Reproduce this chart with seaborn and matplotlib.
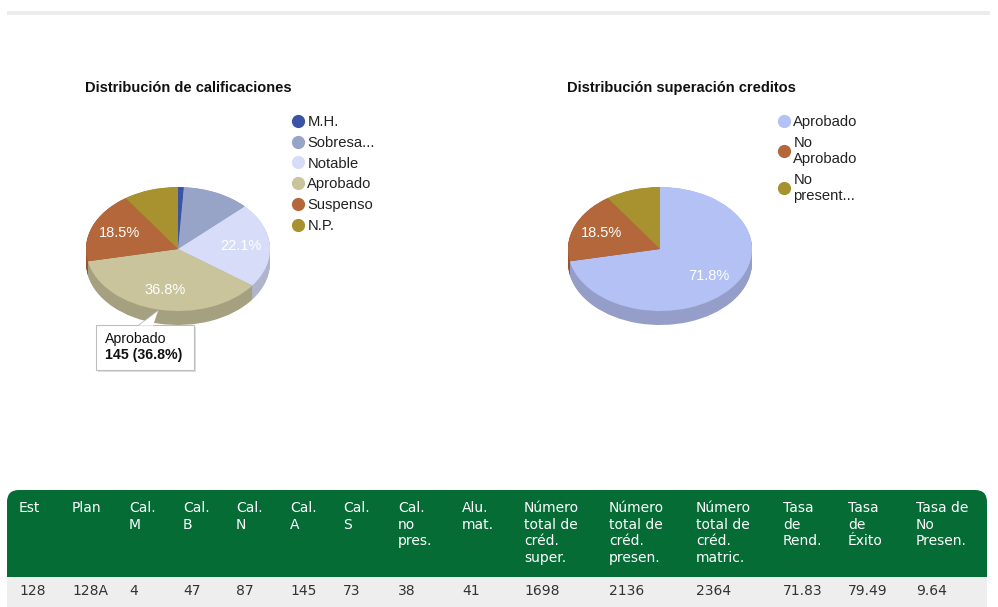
import numpy as np
import matplotlib
matplotlib.use("Agg")
import matplotlib.pyplot as plt
from matplotlib.patches import Rectangle, FancyBboxPatch, Polygon
from matplotlib.lines import Line2D
import matplotlib.colors as mcolors
import seaborn as sns

# ---------------- data ----------------
grade_labels = ["M.H.", "Sobresa...", "Notable", "Aprobado", "Suspenso", "N.P."]
grade_values = [4, 47, 87, 145, 73, 38]
grade_colors = ["#3b53a4", "#98a3c8", "#d7ddf8", "#c9c49c", "#b4673a", "#a8922f"]

credit_labels = ["Aprobado", "No\nAprobado", "No\npresent..."]
credit_values = [1698, 438, 228]
credit_colors = ["#b4c1f5", "#b4673a", "#a8922f"]

table_headers = ["Est", "Plan", "Cal.\nM", "Cal.\nB", "Cal.\nN", "Cal.\nA", "Cal.\nS",
                 "Cal.\nno\npres.", "Alu.\nmat.", "Número\ntotal de\ncréd.\nsuper.",
                 "Número\ntotal de\ncréd.\npresen.", "Número\ntotal de\ncréd.\nmatric.",
                 "Tasa\nde\nRend.", "Tasa\nde\nÉxito", "Tasa de\nNo\nPresen."]
table_row = ["128", "128A", "4", "47", "87", "145", "73", "38", "41",
             "1698", "2136", "2364", "71.83", "79.49", "9.64"]

tooltip_title = "Aprobado"
tooltip_value = "145 (36.8%)"

# ---------------- style ----------------
sns.set_theme(style="white")
plt.rcParams["font.family"] = ["Liberation Sans", "DejaVu Sans"]

W, H = 998, 607
fig = plt.figure(figsize=(W / 100, H / 100), dpi=100)
fig.patch.set_facecolor("white")


def fx(px):
    return px / W


def fy(py):
    return 1 - py / H


def darker(c, f=0.8):
    r, g, b = mcolors.to_rgb(c)
    return (r * f, g * f, b * f)


# top separator bar
fig.patches.append(Rectangle((fx(7), fy(15)), fx(990) - fx(7), 4 / H,
                             transform=fig.transFigure, facecolor="#ececec",
                             edgecolor="none", zorder=0))

RX, RY = 92, 62
THICK = 14 / 62


def pie3d(cx, cy, values, colors, title, title_x):
    ax = fig.add_axes([fx(cx - 1.2 * RX), fy(cy + 1.6 * RY), 2.4 * RX / W, 2.8 * RY / H])
    pal = sns.color_palette(colors)
    side = [darker(c, 0.82) for c in pal]
    for k in np.linspace(THICK, 0.005, 18):
        ax.pie(values, colors=side, startangle=90, counterclock=False,
               center=(0, -k), wedgeprops=dict(linewidth=0))
    ax.pie(values, colors=pal, startangle=90, counterclock=False,
           wedgeprops=dict(linewidth=0),
           autopct=lambda p: ("%.1f%%" % p) if p >= 15 else "",
           pctdistance=0.68,
           textprops=dict(color="white", fontsize=10.5))
    ax.set_aspect("auto")
    ax.set_xlim(-1.2, 1.2)
    ax.set_ylim(-1.6, 1.2)
    ax.axis("off")
    fig.text(fx(title_x), fy(88), title, fontsize=10.5, fontweight="bold",
             color="#111111", va="center", ha="left")
    return ax


ax1 = pie3d(178, 249, grade_values, grade_colors, "Distribución de calificaciones", 85)
ax2 = pie3d(660, 249, credit_values, credit_colors, "Distribución superación creditos", 567)


def legend(labels, colors, x_px, top_px):
    handles = [Line2D([0], [0], marker="o", linestyle="none", markersize=8.5,
                      markerfacecolor=c, markeredgecolor=c) for c in colors]
    fig.legend(handles, labels, loc="upper left",
               bbox_to_anchor=(fx(x_px), fy(top_px)), frameon=False,
               fontsize=10.6, handlelength=0.8, handletextpad=0.25,
               labelspacing=0.46, borderpad=0, borderaxespad=0,
               labelcolor="#222222")


legend(grade_labels, grade_colors, 292, 115)
legend(credit_labels, credit_colors, 778, 115)

# tooltip
fig.patches.append(Rectangle((fx(98), fy(372)), 98 / W, 45 / H, transform=fig.transFigure,
                             facecolor="#dedede", edgecolor="none", zorder=5))
fig.patches.append(Rectangle((fx(96), fy(370)), 98 / W, 45 / H, transform=fig.transFigure,
                             facecolor="white", edgecolor="#bdbdbd", linewidth=0.8, zorder=6))
fig.patches.append(Polygon([(fx(139), fy(325.6)), (fx(153), fy(325.6)), (fx(158), fy(311))],
                           closed=True, transform=fig.transFigure, facecolor="white",
                           edgecolor="none", zorder=7))
fig.lines.append(Line2D([fx(139), fx(158)], [fy(325), fy(311)], transform=fig.transFigure,
                        color="#bdbdbd", linewidth=0.8, zorder=7))
fig.text(fx(105), fy(339), tooltip_title, fontsize=10.2, color="#111111", va="center", zorder=8)
fig.text(fx(105), fy(355), tooltip_value, fontsize=10.2, fontweight="bold", color="#111111",
         va="center", zorder=8)

# table
fig.patches.append(FancyBboxPatch((fx(7), fy(590)), (987 - 7) / W, 100 / H,
                                  boxstyle="round,pad=0,rounding_size=0.012",
                                  transform=fig.transFigure, facecolor="#056c36",
                                  edgecolor="none", zorder=1, mutation_aspect=W / H))
fig.patches.append(Rectangle((fx(7), fy(607)), (987 - 7) / W, 30 / H,
                             transform=fig.transFigure, facecolor="#eeeeee",
                             edgecolor="none", zorder=2))
col_x = [19, 72, 129, 183, 236, 290, 343, 398, 462, 524, 609, 696, 783, 848, 916]
for x, h, v in zip(col_x, table_headers, table_row):
    fig.text(fx(x), fy(501), h, family="DejaVu Sans", fontsize=10, color="white",
             va="top", ha="left", linespacing=1.23, zorder=3)
    fig.text(fx(x), fy(591), v, family="DejaVu Sans", fontsize=10, color="#333333",
             va="center", ha="left", zorder=3)

fig.savefig("out.png", dpi=100)
